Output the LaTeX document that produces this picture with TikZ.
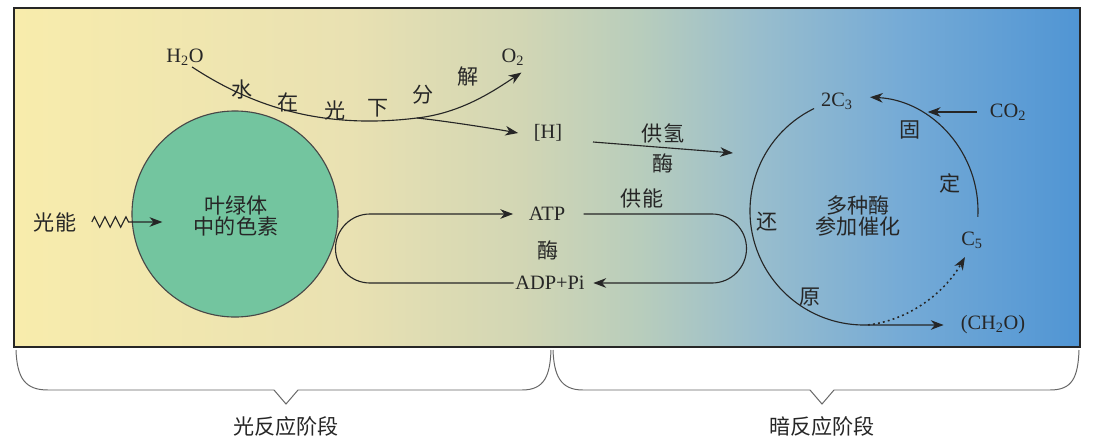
\documentclass[tikz,border=0pt]{standalone}
\usepackage{fontspec}
\setmainfont{Liberation Serif}
\newfontfamily\cjk{Noto Sans CJK SC}
\usepackage{tikz}
\usetikzlibrary{arrows.meta, positioning, calc, decorations.pathmorphing}

\definecolor{ink}{RGB}{38,38,38}
\definecolor{pigfill}{RGB}{115,197,159}
\definecolor{bgA}{RGB}{248,236,172}
\definecolor{bgB}{RGB}{233,225,178}
\definecolor{bgC}{RGB}{210,214,180}
\definecolor{bgD}{RGB}{184,205,188}
\definecolor{bgE}{RGB}{152,189,205}
\definecolor{bgF}{RGB}{118,171,214}
\definecolor{bgG}{RGB}{80,149,212}
\pgfdeclarehorizontalshading{stroma}{100bp}{color(0bp)=(bgA); color(25bp)=(bgA); color(40.75bp)=(bgB); color(48.75bp)=(bgC); color(54.35bp)=(bgD); color(60bp)=(bgE); color(66.5bp)=(bgF); color(75bp)=(bgG); color(100bp)=(bgG)}

\begin{document}
\begin{tikzpicture}[%
  x=0.025cm, y=0.025cm,
  every node/.style={align=center, inner sep=1pt},
  lbl/.style={font=\cjk\fontsize{15}{15.6}\selectfont, text=ink},
  chem/.style={font=\fontsize{14.5}{16}\selectfont, text=ink},
  arr/.style={-{Stealth[length=3.2mm, width=2.4mm, inset=1mm]}, draw=ink, line width=0.8pt},
  frame/.style={draw=ink, line width=1.2pt},
  pigment/.style={circle, draw=ink!85, fill=pigfill, line width=0.8pt, minimum size=5.15cm},
  brace/.style={draw=ink!70, line width=0.7pt},
  dots/.style={dash pattern=on 1.3pt off 2.3pt, line width=1.1pt}
]
\path[fill=white, use as bounding box] (0,0) rectangle (1093,-442);

% Background
\shade[shading=stroma] (14,-8) rectangle (1080,-347);
\draw[frame] (14,-8) rectangle (1080,-347);

% Light reactions
\node[pigment] (pig) at (235,-214) {};
\node[lbl] (pigtxt) at (236,-216) {叶绿体\\中的色素};
\node[lbl] (light) at (55,-222) {光能};
\coordinate (pigin) at ([xshift=22pt]pig.west);
\draw[arr] ([xshift=10pt]light.east) decorate[decoration={zigzag, segment length=0.2625cm, amplitude=0.13cm}] {-- ++(42,0)} -- (light -| pigin);

\node[chem] (h2o) at (185,-57) {H\textsubscript{2}O};
\node[chem] (o2) at (513,-57) {O\textsubscript{2}};
\node[chem] (hh) at (548,-133) {[H]};
\coordinate (split) at (417,-118);
\draw[arr] ([xshift=5pt]h2o.south) .. controls (250,-105) and (320,-130) .. (split) .. controls (462,-113) and (495,-90) .. ([xshift=6pt,yshift=-4pt]o2.south);
\draw[arr] (split) .. controls (445,-121) and (490,-128) .. ([xshift=-10pt]hh.west);
\foreach \c/\x/\y [count=\i] in {水/242/90, 在/288/102, 光/335/110, 下/378/108, 分/423/95, 解/468/77}
  \node[lbl] (dec\i) at (\x,-\y) {\c};

% [H] to the cycle
\coordinate (hout) at (593,-142);
\coordinate (hin) at (733,-153);
\draw[arr] (hout) -- (hin);
\node[lbl] (gq) at (663,-133) {供氢};
\node[lbl] (gqm) at (663,-163) {酶};

% ATP / ADP loop
\node[chem] (atp) at (547,-214) {ATP};
\node[lbl] (atpm) at (548,-250) {酶};
\node[chem] (adp) at (550,-283) {ADP+Pi};
\draw[arr] (adp.west) -- (370,-283) arc[start angle=270, end angle=90, radius=34.5] -- ([xshift=-10pt]atp.west);
\draw[arr] ([xshift=12pt]atp.east) -- (712,-214) arc[start angle=90, end angle=-90, radius=34.5] -- ([xshift=5pt]adp.east);
\node[lbl] (gn) at (642,-198) {供能};

% Calvin cycle
\coordinate (cyc) at (864,-211);
\node[lbl] (enz) at (858,-216) {多种酶\\参加催化};
\node[chem] (c3) at (837,-101) {2C\textsubscript{3}};
\node[chem] (c5) at (972,-240) {C\textsubscript{5}};
\node[chem] (co2) at (1008,-112) {CO\textsubscript{2}};
\node[chem] (ch2o) at (993,-325) {(CH\textsubscript{2}O)};
\coordinate (fixpt) at ($(cyc)+(57:117)$);
\draw[arr] ($(cyc)+(116:114)$) arc[start angle=116, end angle=270, radius=114] -- ([xshift=-11pt]ch2o.west);
\draw[arr] ($(cyc)+(-3:114)$) arc[start angle=-3, end angle=87, radius=114];
\draw[arr] ([xshift=-8pt]co2.west) -- (co2.west -| fixpt);
\draw[arr, dots] ($(cyc)+(272:114)$) .. controls (910,-320) and (945,-292) .. ([shift={(-5pt,-5pt)}]c5.south);
\node[lbl] (gu) at (910,-130) {固};
\node[lbl] (ding) at (950,-183) {定};
\node[lbl] (huan) at (767,-222) {还};
\node[lbl] (yuan) at (810,-297) {原};

% Braces
\draw[brace] (16,-350) .. controls (17,-378) and (25,-390) .. (48,-390) -- (274,-390) -- (286,-404) -- (298,-390) -- (522,-390) .. controls (545,-390) and (550,-375) .. (551,-350);
\draw[brace] (553,-350) .. controls (554,-375) and (560,-390) .. (583,-390) -- (810,-390) -- (822,-404) -- (834,-390) -- (1050,-390) .. controls (1072,-390) and (1078,-378) .. (1079,-350);
\node[lbl] (lightphase) at (286,-426) {光反应阶段};
\node[lbl] (darkphase) at (822,-426) {暗反应阶段};
\end{tikzpicture}
\end{document}
